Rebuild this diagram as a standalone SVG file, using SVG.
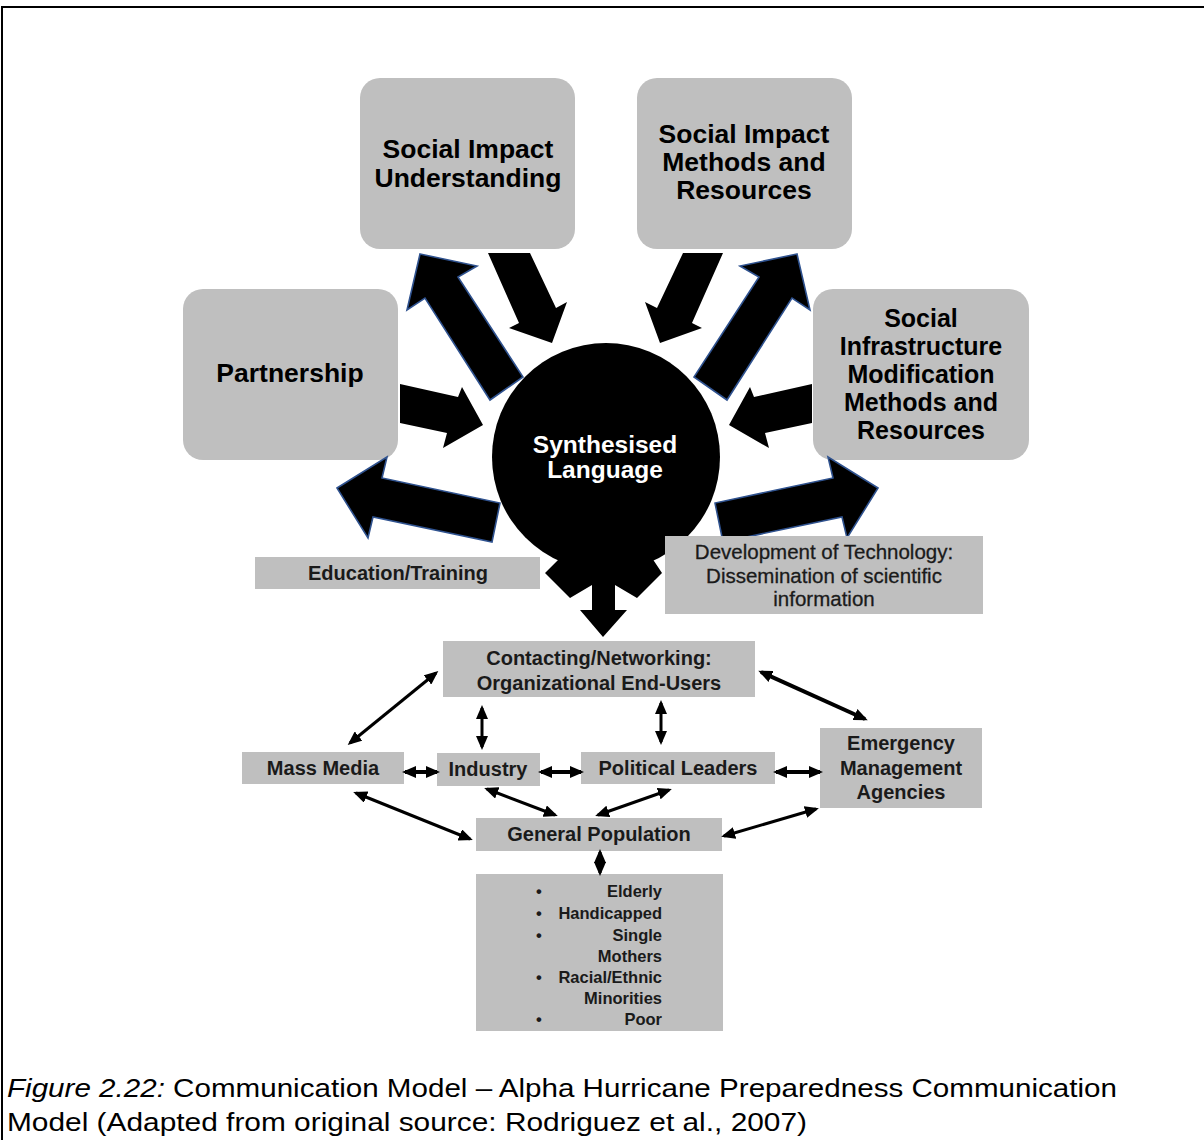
<svg xmlns="http://www.w3.org/2000/svg" width="1204" height="1140" viewBox="0 0 1204 1140">
  <style>
    .box { fill: #bfbfbf; }
    .big { font-family: "Liberation Sans", Arial, sans-serif; font-weight: bold; font-size: 26.5px; fill: #000; text-anchor: middle; }
    .big.tight { font-size: 25px; }
    .hub { font-family: "Liberation Sans", Arial, sans-serif; font-weight: bold; font-size: 24.5px; fill: #fff; text-anchor: middle; }
    .mid { font-family: "Liberation Sans", Arial, sans-serif; font-weight: bold; font-size: 20px; fill: #1a1a1a; text-anchor: middle; }
    .reg { font-family: "Liberation Sans", Arial, sans-serif; font-size: 20.5px; fill: #1a1a1a; text-anchor: middle; stroke: #1a1a1a; stroke-width: 0.3px; }
    .lst { font-family: "Liberation Sans", Arial, sans-serif; font-weight: bold; font-size: 16.5px; fill: #1a1a1a; }
    .cap { font-family: "Liberation Sans", Arial, sans-serif; font-size: 26px; fill: #000; }
    .out { fill: #000; stroke: #2f528f; stroke-width: 1.6; stroke-linejoin: miter; }
    .in { fill: #000; }
    .link { stroke: #000; stroke-width: 3; fill: none; marker-start: url(#ah); marker-end: url(#ah); }
    .link.thick { stroke-width: 4; }
  </style>
  <defs>
    <marker id="ah" markerUnits="userSpaceOnUse" markerWidth="14" markerHeight="12" refX="11" refY="6" orient="auto-start-reverse">
      <path d="M0,0 L14,6 L0,12 z" fill="#000"/>
    </marker>
  </defs>

  <!-- page frame -->
  <path d="M2,1140 V7 H1204" fill="none" stroke="#000" stroke-width="2"/>

  <!-- top and side rounded nodes -->
  <g id="node-understanding">
    <rect class="box" x="360" y="78" width="215" height="171" rx="20"/>
    <text class="big" x="468" y="158">Social Impact</text>
    <text class="big" x="468" y="187">Understanding</text>
  </g>
  <g id="node-methods">
    <rect class="box" x="637" y="78" width="215" height="171" rx="20"/>
    <text class="big" x="744" y="143">Social Impact</text>
    <text class="big" x="744" y="171">Methods and</text>
    <text class="big" x="744" y="199">Resources</text>
  </g>
  <g id="node-partnership">
    <rect class="box" x="183" y="289" width="215" height="171" rx="20"/>
    <text class="big" x="290" y="382">Partnership</text>
  </g>
  <g id="node-infrastructure">
    <rect class="box" x="813" y="289" width="216" height="171" rx="20"/>
    <text class="big tight" x="921" y="327">Social</text>
    <text class="big tight" x="921" y="355">Infrastructure</text>
    <text class="big tight" x="921" y="383">Modification</text>
    <text class="big tight" x="921" y="411">Methods and</text>
    <text class="big tight" x="921" y="439">Resources</text>
  </g>

  <!-- central hub with its downward arrow -->
  <g id="node-hub">
    <polygon class="in" points="560,558 545,573 570,598 592,585 592,610 580,610 603,637 627,610 615,610 615,585 637,598 662,573 652,558"/>
    <circle cx="606" cy="457" r="114" fill="#000"/>
    <text class="hub" x="605" y="453">Synthesised</text>
    <text class="hub" x="605" y="478">Language</text>
  </g>

  <!-- block arrows between hub and outer nodes -->
  <g id="block-arrows">
    <!-- into hub -->
    <polygon class="in" points="488,253 530,253 556,308 567,302 552,343 509,328 519,323"/>
    <polygon class="in" points="723,253 683,253 657,308 645,302 660,343 702,328 692,323"/>
    <polygon class="in" points="400,384 458,397 462,387 483,425 443,448 447,433 400,423"/>
    <polygon class="in" points="812,384 754,397 750,387 729,425 769,448 765,433 812,423"/>
    <!-- out of hub -->
    <polygon class="out" points="420,254 477,266 458,277 523,377 490,400 425,298 407,310"/>
    <polygon class="out" points="797,254 740,266 759,277 694,377 727,400 792,298 810,310"/>
    <polygon class="out" points="337,488 387,457 382,478 500,503 492,542 373,517 368,538"/>
    <polygon class="out" points="878,488 828,457 833,478 715,503 723,542 842,517 847,538"/>
  </g>

  <!-- labelled bands below the hub -->
  <g id="node-education">
    <rect class="box" x="255" y="557" width="285" height="32"/>
    <text class="mid" x="398" y="580">Education/Training</text>
  </g>
  <g id="node-technology">
    <rect class="box" x="665" y="536" width="318" height="78"/>
    <text class="reg" x="824" y="559">Development of Technology:</text>
    <text class="reg" x="824" y="583">Dissemination of scientific</text>
    <text class="reg" x="824" y="606">information</text>
  </g>

  <!-- stakeholder network -->
  <g id="node-contacting">
    <rect class="box" x="443" y="641" width="312" height="56"/>
    <text class="mid" x="599" y="665">Contacting/Networking:</text>
    <text class="mid" x="599" y="690">Organizational End-Users</text>
  </g>
  <g id="node-massmedia">
    <rect class="box" x="242" y="752" width="162" height="32"/>
    <text class="mid" x="323" y="775">Mass Media</text>
  </g>
  <g id="node-industry">
    <rect class="box" x="437" y="753" width="103" height="33"/>
    <text class="mid" x="488" y="776">Industry</text>
  </g>
  <g id="node-political">
    <rect class="box" x="581" y="752" width="194" height="32"/>
    <text class="mid" x="678" y="775">Political Leaders</text>
  </g>
  <g id="node-emergency">
    <rect class="box" x="820" y="728" width="162" height="80"/>
    <text class="mid" x="901" y="750">Emergency</text>
    <text class="mid" x="901" y="775">Management</text>
    <text class="mid" x="901" y="799">Agencies</text>
  </g>
  <g id="node-population">
    <rect class="box" x="476" y="818" width="246" height="33"/>
    <text class="mid" x="599" y="841">General Population</text>
  </g>
  <g id="node-groups">
    <rect class="box" x="476" y="874" width="247" height="157"/>
    <g class="lst">
      <text x="539" y="897" text-anchor="middle">•</text>
      <text x="662" y="897" text-anchor="end">Elderly</text>
      <text x="539" y="919" text-anchor="middle">•</text>
      <text x="662" y="919" text-anchor="end">Handicapped</text>
      <text x="539" y="941" text-anchor="middle">•</text>
      <text x="662" y="941" text-anchor="end">Single</text>
      <text x="662" y="962" text-anchor="end">Mothers</text>
      <text x="539" y="983" text-anchor="middle">•</text>
      <text x="662" y="983" text-anchor="end">Racial/Ethnic</text>
      <text x="662" y="1004" text-anchor="end">Minorities</text>
      <text x="539" y="1025" text-anchor="middle">•</text>
      <text x="662" y="1025" text-anchor="end">Poor</text>
    </g>
  </g>

  <!-- two-way links in the network -->
  <g id="connectors">
    <line class="link" x1="350" y1="743" x2="436" y2="673"/>
    <line class="link thick" x1="761" y1="672" x2="865" y2="719"/>
    <line class="link" x1="482" y1="708" x2="482" y2="747"/>
    <line class="link" x1="661" y1="703" x2="661" y2="742"/>
    <line class="link thick" x1="405" y1="772" x2="437" y2="772"/>
    <line class="link thick" x1="541" y1="772" x2="581" y2="772"/>
    <line class="link thick" x1="776" y1="772" x2="820" y2="772"/>
    <line class="link" x1="356" y1="793" x2="470" y2="839"/>
    <line class="link" x1="487" y1="789" x2="555" y2="815"/>
    <line class="link" x1="669" y1="790" x2="598" y2="815"/>
    <line class="link" x1="816" y1="809" x2="724" y2="836"/>
    <line class="link" x1="600" y1="852" x2="600" y2="873"/>
  </g>

  <!-- caption -->
  <text class="cap" x="7" y="1097" textLength="1110" lengthAdjust="spacingAndGlyphs"><tspan font-style="italic">Figure 2.22:</tspan> Communication Model – Alpha Hurricane Preparedness Communication</text>
  <text class="cap" x="7" y="1131" textLength="800" lengthAdjust="spacingAndGlyphs">Model (Adapted from original source: Rodriguez et al., 2007)</text>
</svg>
